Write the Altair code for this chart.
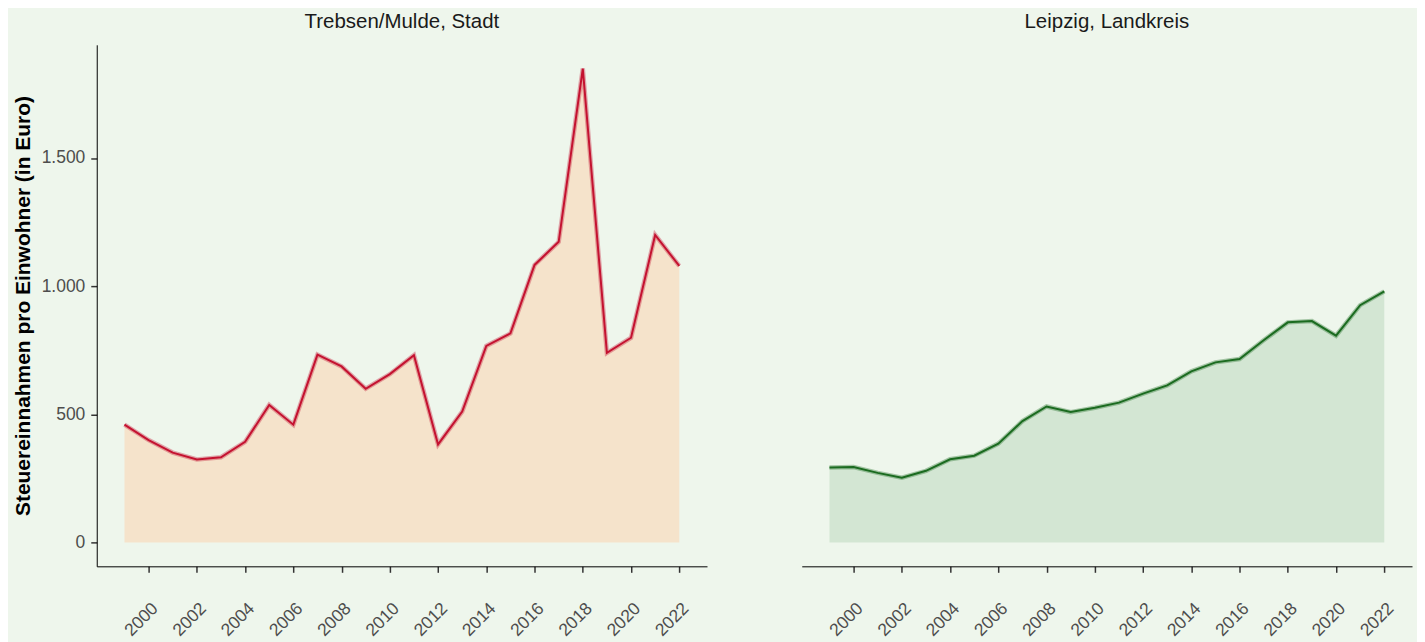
import altair as alt
import pandas as pd

years = list(range(1999, 2023))
trebsen = [460, 400, 351, 324, 333, 393, 537, 460, 733, 687, 600, 657, 731, 383,
           511, 767, 816, 1083, 1173, 1849, 740, 799, 1200, 1079]
leipzig = [293, 295, 272, 253, 280, 325, 339, 386, 474, 531, 509, 526, 546, 581,
           613, 668, 703, 716, 789, 859, 864, 807, 926, 980]
panel_titles = ["Trebsen/Mulde, Stadt", "Leipzig, Landkreis"]
x_ticks = list(range(2000, 2023, 2))
y_ticks = [0, 500, 1000, 1500]

BG = "#EEF6EC"
FONT = "Liberation Sans"
Y_DOMAIN = [-92.5, 1941.5]
X_DOMAIN = [1997.85, 2023.15]


def panel(values, title, fill, line, show_y):
    df = pd.DataFrame({"year": years, "value": values})
    x = alt.X("year:Q", scale=alt.Scale(domain=X_DOMAIN, nice=False, zero=False),
              axis=alt.Axis(values=x_ticks, format="d", labelAngle=-45, title=None,
                            grid=False, domainColor="#000000", domainWidth=1,
                            tickColor="#333333", tickSize=6, tickWidth=1.5,
                            labelColor="#4D4D4D", labelFontSize=17.5, labelFont=FONT,
                            labelPadding=27, labelAlign="right", labelBaseline="top",
                            labelFlush=False, labelOverlap=False, labelBound=False))
    if show_y:
        yaxis = alt.Axis(values=y_ticks, title="Steuereinnahmen pro Einwohner (in Euro)",
                         titleFont=FONT, titleFontSize=21, titleFontWeight="bold",
                         titleColor="#000000", titlePadding=8,
                         labelExpr="replace(format(datum.value, ','), ',', '.')",
                         grid=False, domainColor="#000000", domainWidth=1,
                         tickColor="#333333", tickSize=6, tickWidth=1.5,
                         labelColor="#4D4D4D", labelFontSize=17.5, labelFont=FONT,
                         labelPadding=6)
    else:
        yaxis = None
    y = alt.Y("value:Q", scale=alt.Scale(domain=Y_DOMAIN, nice=False, zero=False), axis=yaxis)
    base = alt.Chart(df)
    area = base.mark_area(color=fill, opacity=1).encode(x=x, y=y, y2=alt.datum(0))
    halo = base.mark_line(color=line, strokeWidth=4.5, opacity=0.35).encode(x=x, y=y)
    ln = base.mark_line(color=line, strokeWidth=2).encode(x=x, y=y)
    return alt.layer(area, halo, ln).properties(
        width=612, height=523,
        title=alt.TitleParams(title, fontSize=20.5, fontWeight="normal", font=FONT,
                              color="#1A1A1A", offset=12, anchor="middle"))


left = panel(trebsen, panel_titles[0], "#F5E3CB", "#C41230", True)
right = panel(leipzig, panel_titles[1], "#D3E6D3", "#1B6B20", False)

chart = alt.hconcat(left, right, spacing=95).properties(
    background=BG, padding={"left": 4, "top": 3, "right": 5, "bottom": 5}
).configure_view(stroke=None)

chart.save("out.html", embed_options={"renderer": "svg", "actions": False})
